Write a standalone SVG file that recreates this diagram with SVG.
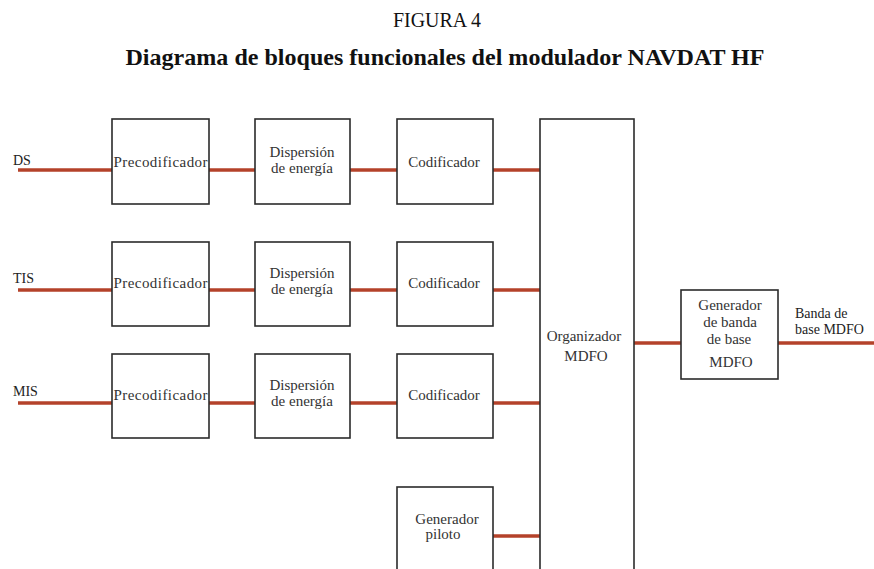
<svg xmlns="http://www.w3.org/2000/svg" width="874" height="569" viewBox="0 0 874 569">
<style>
.box{fill:#fff;stroke:#2b2b2b;stroke-width:1.6}
.ln{stroke:#b4422a;stroke-width:3.5;fill:none}
.ser{font-family:"Liberation Serif","Times New Roman","DejaVu Serif",serif}
.t{font-size:15px;fill:#333;text-anchor:middle}
.lab{font-size:14px;fill:#222}
</style>
<rect width="874" height="569" fill="#fff"/>
<text class="ser" x="437" y="27" font-size="20" text-anchor="middle" fill="#111" textLength="88" lengthAdjust="spacingAndGlyphs">FIGURA 4</text>
<text class="ser" x="445" y="65" font-size="24" font-weight="bold" text-anchor="middle" fill="#111" textLength="639" lengthAdjust="spacingAndGlyphs">Diagrama de bloques funcionales del modulador NAVDAT HF</text>

<g id="connectors">
<line class="ln" x1="18" y1="170" x2="112" y2="170"/>
<line class="ln" x1="209" y1="170" x2="255" y2="170"/>
<line class="ln" x1="350" y1="170" x2="397" y2="170"/>
<line class="ln" x1="493" y1="170" x2="540" y2="170"/>
<line class="ln" x1="18" y1="290" x2="112" y2="290"/>
<line class="ln" x1="209" y1="290" x2="255" y2="290"/>
<line class="ln" x1="350" y1="290" x2="397" y2="290"/>
<line class="ln" x1="493" y1="290" x2="540" y2="290"/>
<line class="ln" x1="18" y1="403" x2="112" y2="403"/>
<line class="ln" x1="209" y1="403" x2="255" y2="403"/>
<line class="ln" x1="350" y1="403" x2="397" y2="403"/>
<line class="ln" x1="493" y1="403" x2="540" y2="403"/>
<line class="ln" x1="493" y1="536" x2="540" y2="536"/>
<line class="ln" x1="634" y1="343" x2="681" y2="343"/>
<line class="ln" x1="778" y1="343" x2="874" y2="343"/>
</g>

<g id="labels" class="ser">
<text class="lab" x="13" y="165">DS</text>
<text class="lab" x="13" y="283">TIS</text>
<text class="lab" x="13" y="396">MIS</text>
<text class="lab" x="795" y="318" font-size="13">Banda de</text>
<text class="lab" x="795" y="334" font-size="13">base MDFO</text>
</g>

<g class="ser">
<g id="pre1"><rect class="box" x="112" y="119" width="97" height="85"/><text class="t" x="160.5" y="167" textLength="94" lengthAdjust="spacing">Precodificador</text></g>
<g id="disp1"><rect class="box" x="255" y="119" width="95" height="85"/><text class="t" x="302" y="157">Dispersión</text><text class="t" x="302" y="173">de energía</text></g>
<g id="cod1"><rect class="box" x="397" y="119" width="96" height="85"/><text class="t" x="444" y="167">Codificador</text></g>

<g id="pre2"><rect class="box" x="112" y="242" width="97" height="84"/><text class="t" x="160.5" y="288" textLength="94" lengthAdjust="spacing">Precodificador</text></g>
<g id="disp2"><rect class="box" x="255" y="242" width="95" height="84"/><text class="t" x="302" y="278">Dispersión</text><text class="t" x="302" y="294">de energía</text></g>
<g id="cod2"><rect class="box" x="397" y="242" width="96" height="84"/><text class="t" x="444" y="288">Codificador</text></g>

<g id="pre3"><rect class="box" x="112" y="354" width="97" height="84"/><text class="t" x="160.5" y="400" textLength="94" lengthAdjust="spacing">Precodificador</text></g>
<g id="disp3"><rect class="box" x="255" y="354" width="95" height="84"/><text class="t" x="302" y="390">Dispersión</text><text class="t" x="302" y="406">de energía</text></g>
<g id="cod3"><rect class="box" x="397" y="354" width="96" height="84"/><text class="t" x="444" y="400">Codificador</text></g>

<g id="piloto"><rect class="box" x="397" y="487" width="96" height="95"/><text class="t" x="447" y="524">Generador</text><text class="t" x="443" y="539">piloto</text></g>

<g id="organizador"><rect class="box" x="540" y="119" width="94" height="463"/><text class="t" x="584" y="341">Organizador</text><text class="t" x="586" y="361">MDFO</text></g>

<g id="generador"><rect class="box" x="681" y="290" width="97" height="89"/><text class="t" x="730" y="310">Generador</text><text class="t" x="730" y="327">de banda</text><text class="t" x="729" y="344">de base</text><text class="t" x="731" y="367">MDFO</text></g>
</g>
</svg>
